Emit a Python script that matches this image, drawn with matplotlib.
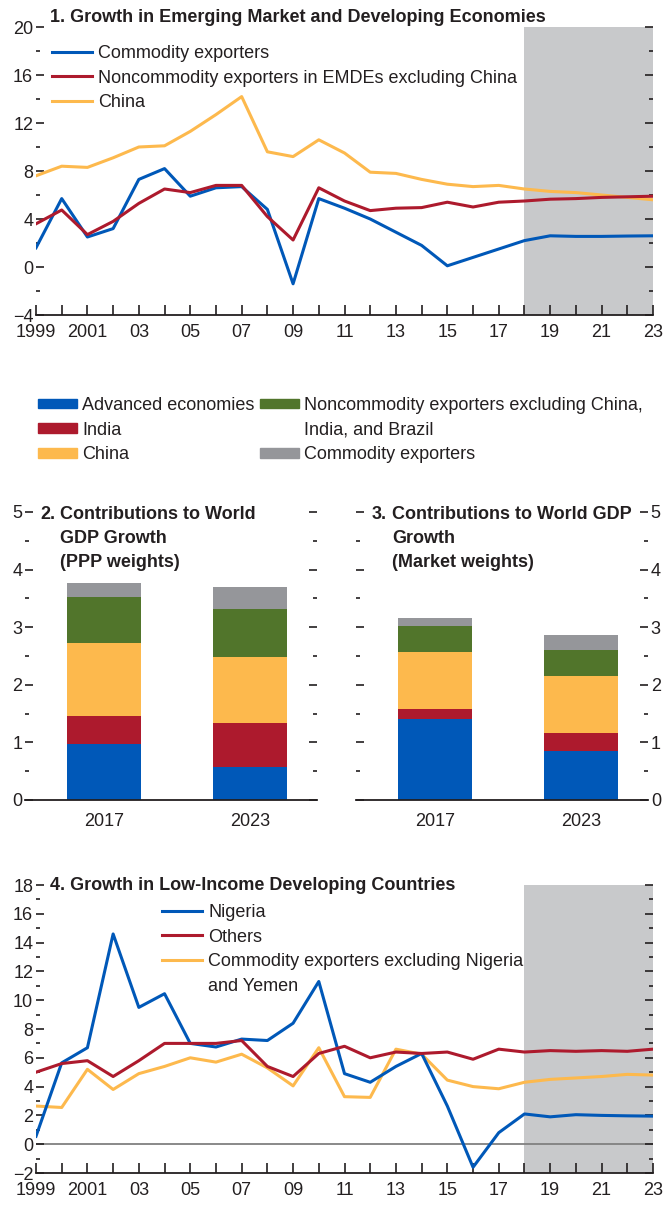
import matplotlib
matplotlib.use("Agg")
import matplotlib.pyplot as plt
from matplotlib.patches import Patch
from matplotlib.lines import Line2D
from matplotlib.ticker import MultipleLocator

plt.rcParams['font.family'] = ['Liberation Sans', 'DejaVu Sans']

# ---- data ----
years = list(range(1999, 2024))
year_labels = ['1999', '', '2001', '', '03', '', '05', '', '07', '', '09', '', '11', '',
               '13', '', '15', '', '17', '', '19', '', '21', '', '23']

# panel 1
commodity_exporters = [1.6, 5.7, 2.5, 3.2, 7.3, 8.2, 5.9, 6.6, 6.7, 4.8, -1.4, 5.7, 4.9,
                       4.0, 2.9, 1.8, 0.1, 0.8, 1.5, 2.2, 2.6, 2.55, 2.55, 2.58, 2.6]
noncommodity_emde = [3.6, 4.75, 2.7, 3.8, 5.3, 6.5, 6.2, 6.8, 6.8, 4.2, 2.25, 6.6, 5.5,
                     4.7, 4.9, 4.95, 5.4, 5.0, 5.4, 5.5, 5.65, 5.7, 5.8, 5.85, 5.9]
china = [7.6, 8.4, 8.3, 9.1, 10.0, 10.1, 11.3, 12.7, 14.2, 9.6, 9.2, 10.6, 9.5,
         7.9, 7.8, 7.3, 6.9, 6.7, 6.8, 6.5, 6.3, 6.2, 6.0, 5.8, 5.6]

# panels 2 and 3
bar_years = ['2017', '2023']
ppp_advanced = [0.98, 0.57]
ppp_india = [0.48, 0.77]
ppp_china = [1.26, 1.15]
ppp_noncommodity = [0.81, 0.83]
ppp_commodity = [0.23, 0.37]
mkt_advanced = [1.40, 0.85]
mkt_india = [0.18, 0.31]
mkt_china = [0.99, 1.00]
mkt_noncommodity = [0.45, 0.45]
mkt_commodity = [0.14, 0.25]

# panel 4
nigeria = [0.55, 5.65, 6.7, 14.6, 9.5, 10.45, 7.0, 6.75, 7.3, 7.2, 8.4, 11.3, 4.9,
           4.3, 5.4, 6.3, 2.65, -1.6, 0.8, 2.1, 1.9, 2.05, 2.0, 1.97, 1.95]
others = [5.0, 5.6, 5.8, 4.7, 5.8, 7.0, 7.0, 7.0, 7.2, 5.4, 4.7, 6.3, 6.8,
          6.0, 6.4, 6.3, 6.4, 5.9, 6.6, 6.4, 6.5, 6.45, 6.5, 6.45, 6.6]
commodity_ex_ng_ye = [2.65, 2.55, 5.2, 3.8, 4.9, 5.4, 6.0, 5.7, 6.25, 5.3, 4.05, 6.7, 3.3,
                      3.25, 6.6, 6.25, 4.45, 4.0, 3.85, 4.3, 4.5, 4.6, 4.7, 4.85, 4.8]

# ---- style ----
blue = '#0058B8'
red = '#AD1A2D'
yellow = '#FDB94D'
green = '#51752B'
grey = '#95969A'
shade = '#C8C9CB'
txt = '#231F20'
fs = 13

W, H = 663, 1208
fig = plt.figure(figsize=(W / 100, H / 100), dpi=100)


def px_axes(l, t, r, b):
    return fig.add_axes([l / W, 1 - b / H, (r - l) / W, (b - t) / H])


def fx(x):
    return x / W


def fy(y):
    return 1 - y / H


def style(ax):
    for s in ['left', 'right', 'top']:
        ax.spines[s].set_visible(False)
    ax.spines['bottom'].set_linewidth(1.3)
    ax.spines['bottom'].set_color(txt)
    ax.tick_params(axis='y', which='both', direction='in', left=True, right=True,
                   pad=2, labelsize=fs, colors=txt, width=1.2)
    ax.tick_params(axis='y', which='major', length=6)
    ax.tick_params(axis='y', which='minor', length=3)
    ax.tick_params(axis='x', direction='in', length=7, width=1.2, pad=6.5,
                   labelsize=fs, colors=txt)


def line_panel(ax, lo, hi):
    style(ax)
    ax.axvspan(2018, 2023, color=shade, lw=0, zorder=0)
    ax.set_xlim(1999, 2023)
    ax.set_ylim(lo, hi)
    ax.set_xticks(years)
    ax.set_xticklabels(year_labels)


leg_kw = dict(frameon=False, fontsize=fs, handlelength=2.2, handletextpad=0.35,
              borderpad=0, borderaxespad=0, labelspacing=0.42, labelcolor=txt,
              bbox_transform=fig.transFigure, loc='upper left')

# panel 1
ax1 = px_axes(36, 27, 653, 315)
line_panel(ax1, -4, 20)
ax1.yaxis.set_major_locator(MultipleLocator(4))
ax1.yaxis.set_minor_locator(MultipleLocator(2))
ax1.set_yticklabels(['−4' if t < 0 else str(int(t)) for t in ax1.get_yticks()])
ax1.plot(years, commodity_exporters, color=blue, lw=2.2, label='Commodity exporters', zorder=3)
ax1.plot(years, noncommodity_emde, color=red, lw=2.2,
         label='Noncommodity exporters in EMDEs excluding China', zorder=3)
ax1.plot(years, china, color=yellow, lw=2.2, label='China', zorder=2)
ax1.legend(bbox_to_anchor=(fx(52), fy(45)), **leg_kw)
fig.text(fx(50), fy(17), '1. Growth in Emerging Market and Developing Economies',
         fontsize=fs, fontweight='bold', color=txt, va='center')

# middle legend
empty = Patch(facecolor='none', edgecolor='none')
handles = [Patch(color=blue), Patch(color=red), Patch(color=yellow),
           Patch(color=green), empty, Patch(color=grey)]
labels = ['Advanced economies', 'India', 'China',
          'Noncommodity exporters excluding China,', 'India, and Brazil', 'Commodity exporters']
mid_kw = dict(leg_kw)
mid_kw.update(handlelength=2.15, handleheight=0.45, handletextpad=0.3, columnspacing=0.3)
fig.legend(handles, labels, ncol=2, bbox_to_anchor=(fx(38), fy(397)), **mid_kw)


def bar_panel(ax, series, right_labels):
    style(ax)
    x = [0, 1]
    bottom = [0, 0]
    for vals, c in zip(series, [blue, red, yellow, green, grey]):
        ax.bar(x, vals, width=0.507, bottom=bottom, color=c, lw=0)
        bottom = [b + v for b, v in zip(bottom, vals)]
    ax.set_xlim(-0.541, 1.459)
    ax.set_ylim(0, 5)
    ax.set_xticks(x)
    ax.set_xticklabels(bar_years)
    ax.tick_params(axis='x', length=0, pad=9)
    ax.yaxis.set_major_locator(MultipleLocator(1))
    ax.yaxis.set_minor_locator(MultipleLocator(0.5))
    if right_labels:
        ax.tick_params(axis='y', which='both', labelleft=False, labelright=True)


ax2 = px_axes(25, 512, 317, 800)
bar_panel(ax2, [ppp_advanced, ppp_india, ppp_china, ppp_noncommodity, ppp_commodity], False)
ax3 = px_axes(356, 512, 648, 800)
bar_panel(ax3, [mkt_advanced, mkt_india, mkt_china, mkt_noncommodity, mkt_commodity], True)

fig.text(fx(40), fy(506), '2.', fontsize=fs, fontweight='bold', color=txt, va='top')
fig.text(fx(60), fy(506), 'Contributions to World\nGDP Growth\n(PPP weights)',
         fontsize=fs, fontweight='bold', color=txt, va='top', linespacing=1.55)
fig.text(fx(372), fy(506), '3.', fontsize=fs, fontweight='bold', color=txt, va='top')
fig.text(fx(392), fy(506), 'Contributions to World GDP\nGrowth\n(Market weights)',
         fontsize=fs, fontweight='bold', color=txt, va='top', linespacing=1.55)

# panel 4
ax4 = px_axes(36, 885, 653, 1173)
line_panel(ax4, -2, 18)
ax4.yaxis.set_major_locator(MultipleLocator(2))
ax4.yaxis.set_minor_locator(MultipleLocator(1))
ax4.set_yticklabels(['−2' if t < 0 else str(int(t)) for t in ax4.get_yticks()])
ax4.axhline(0, color='#808080', lw=1.3, zorder=1)
ax4.plot(years, nigeria, color=blue, lw=2.2, zorder=3)
ax4.plot(years, others, color=red, lw=2.2, zorder=3)
ax4.plot(years, commodity_ex_ng_ye, color=yellow, lw=2.2, zorder=2)
h4 = [Line2D([], [], color=blue, lw=2.2), Line2D([], [], color=red, lw=2.2),
      Line2D([], [], color=yellow, lw=2.2), Line2D([], [], color='none')]
l4 = ['Nigeria', 'Others', 'Commodity exporters excluding Nigeria', 'and Yemen']
ax4.legend(h4, l4, bbox_to_anchor=(fx(162), fy(904)), **leg_kw)
fig.text(fx(50), fy(885), '4. Growth in Low-Income Developing Countries',
         fontsize=fs, fontweight='bold', color=txt, va='center')

fig.savefig('out.png', dpi=100)
